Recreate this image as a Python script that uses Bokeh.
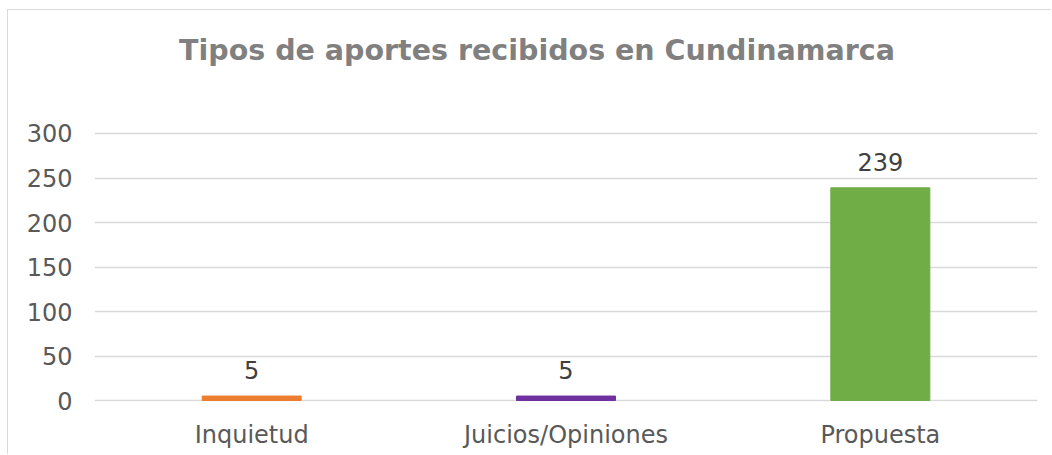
from bokeh.plotting import figure
from bokeh.models import ColumnDataSource, FixedTicker
from bokeh.embed import file_html
from bokeh.resources import INLINE
from bokeh.core.properties import value

categories = ["Inquietud", "Juicios/Opiniones", "Propuesta"]
values = [5, 5, 239]
colors = ["#ED7D31", "#7030A0", "#70AD47"]
y_ticks = [0, 50, 100, 150, 200, 250, 300]
title_text = "Tipos de aportes recibidos en Cundinamarca"

FONT = "DejaVu Sans"

src = ColumnDataSource(dict(cat=categories, val=values, col=colors,
                            lab=[str(v) for v in values]))

p = figure(x_range=categories, y_range=(-1.12, 438.2), width=1044, height=445,
           output_backend="svg", toolbar_location=None,
           min_border_left=86, min_border_right=15, min_border_top=0,
           min_border_bottom=54)
p.styles = {"margin-left": "7px", "margin-top": "9px",
            "border-left": "1px solid #d9d9d9",
            "border-top": "1px solid #d9d9d9"}
p.outline_line_color = None
p.background_fill_color = "white"
p.border_fill_color = "white"

# gridlines
p.hspan(y=y_ticks, line_color="#d9d9d9", line_width=1.5)
p.xgrid.grid_line_color = None
p.ygrid.grid_line_color = None

p.vbar(x="cat", top="val", width=0.315, color="col", source=src)
p.text(x="cat", y="val", text="lab", source=src, text_align="center",
       text_baseline="alphabetic", y_offset=-26, text_font=value(FONT),
       text_font_size="24px", text_color="#404040")

# title
p.text(x=["Juicios/Opiniones"], y=[393.5], text=[title_text], x_offset=-29,
       text_align="center", text_baseline="alphabetic",
       text_font=value(FONT), text_font_style="bold",
       text_font_size="28.5px", text_color="#808080")

p.yaxis.ticker = FixedTicker(ticks=y_ticks)

for ax in (p.xaxis, p.yaxis):
    ax.axis_line_color = None
    ax.major_tick_line_color = None
    ax.minor_tick_line_color = None
    ax.major_label_text_font = FONT
    ax.major_label_text_color = "#595959"
    ax.major_label_text_font_size = "24px"
p.yaxis.major_label_standoff = 16
p.xaxis.major_label_standoff = 13

open("out.html", "w").write(file_html(p, INLINE))
